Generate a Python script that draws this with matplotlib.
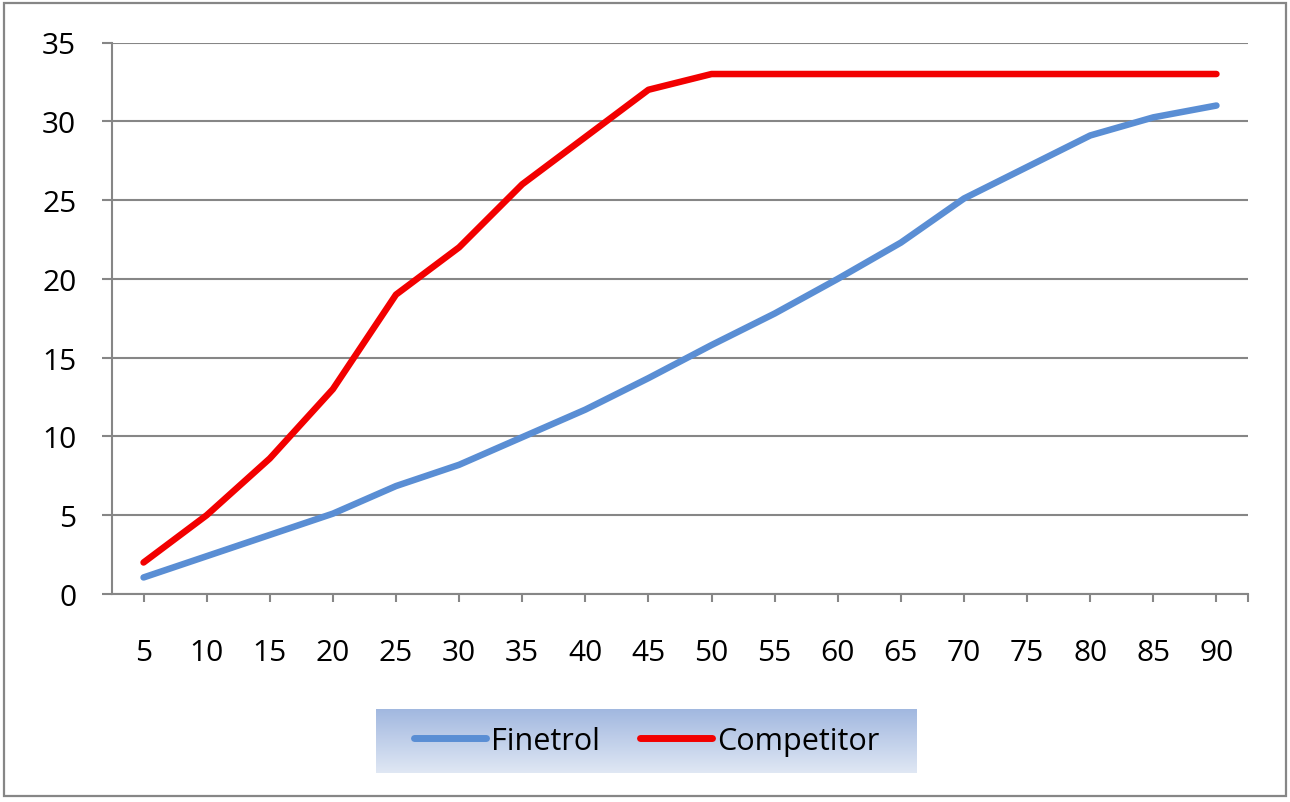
import matplotlib
matplotlib.use('Agg')
import matplotlib.pyplot as plt
import numpy as np
from matplotlib.patches import Rectangle

categories = ['5', '10', '15', '20', '25', '30', '35', '40', '45', '50',
              '55', '60', '65', '70', '75', '80', '85', '90']
finetrol = [1.05, 2.4, 3.75, 5.1, 6.85, 8.2, 9.95, 11.7, 13.7, 15.8,
            17.8, 20.0, 22.3, 25.1, 27.1, 29.1, 30.25, 31.0]
competitor = [2.0, 5.0, 8.6, 13.0, 19.0, 22.0, 26.0, 29.0, 32.0, 33.0,
              33.0, 33.0, 33.0, 33.0, 33.0, 33.0, 33.0, 33.0]
yticks = [0, 5, 10, 15, 20, 25, 30, 35]
series_names = ['Finetrol', 'Competitor']

plt.rcParams['font.family'] = ['Open Sans', 'DejaVu Sans']

W, H = 1290, 803
fig = plt.figure(figsize=(W / 100, H / 100), dpi=100)
fig.patch.set_facecolor('white')

gray = '#868686'

# outer chart border
fig.add_artist(Rectangle((4 / W, 1 - 797 / H), (1286 - 4) / W, (797 - 4) / H,
                         transform=fig.transFigure, fill=False,
                         edgecolor=gray, lw=1.6, zorder=0))

ax = fig.add_axes([112 / W, 1 - 595 / H, (1248 - 112) / W, (595 - 43.5) / H])
x = np.arange(len(categories))
ax.plot(x, finetrol, color='#5A8ED4', lw=4.7, solid_capstyle='round',
        solid_joinstyle='round', label=series_names[0], zorder=3)
ax.plot(x, competitor, color='#F20000', lw=4.7, solid_capstyle='round',
        solid_joinstyle='round', label=series_names[1], zorder=4)

ax.set_xlim(-0.5, len(categories) - 0.5)
ax.set_ylim(0, 35)
ax.set_yticks(yticks)
ax.set_yticklabels([str(v) for v in yticks])
ax.set_xticks(list(x) + [len(categories) - 0.5])
ax.set_xticklabels(categories + [''])

ax.grid(axis='y', color=gray, lw=1.5)
ax.set_axisbelow(True)
for s in ['top', 'right']:
    ax.spines[s].set_visible(False)
for s in ['left', 'bottom']:
    ax.spines[s].set_color(gray)
    ax.spines[s].set_linewidth(1.5)

ax.tick_params(axis='y', length=7.2, width=1.5, color=gray, pad=18.5,
               labelsize=21.5, labelcolor='black')
ax.tick_params(axis='x', length=6, width=1.5, color=gray, pad=26,
               labelsize=21.5, labelcolor='black')

# legend background with vertical gradient
lx0, lx1, ly0, ly1 = 376, 917, 710, 774
lax = fig.add_axes([lx0 / W, 1 - ly1 / H, (lx1 - lx0) / W, (ly1 - ly0) / H])
top = np.array([0.635, 0.722, 0.878])
bot = np.array([0.875, 0.906, 0.956])
t = np.linspace(0, 1, 64)[:, None]
grad = top[None, :] * (1 - t) + bot[None, :] * t
grad = np.repeat(grad[:, None, :], 2, axis=1)
lax.imshow(grad, aspect='auto', extent=[0, 1, 0, 1], origin='upper')
lax.set_axis_off()

handles, labels = ax.get_legend_handles_labels()
leg = fig.legend(handles, labels, loc='center',
                 bbox_to_anchor=((lx0 + lx1) / 2 / W, 1 - 742 / H),
                 ncol=2, frameon=False, fontsize=22, handlelength=2.36,
                 handletextpad=0.16, columnspacing=1.31, borderpad=0.0)
for ln in leg.get_lines():
    ln.set_linewidth(5.0)
    ln.set_solid_capstyle('round')
leg.set_zorder(10)

fig.savefig('out.png', dpi=100, facecolor='white')
